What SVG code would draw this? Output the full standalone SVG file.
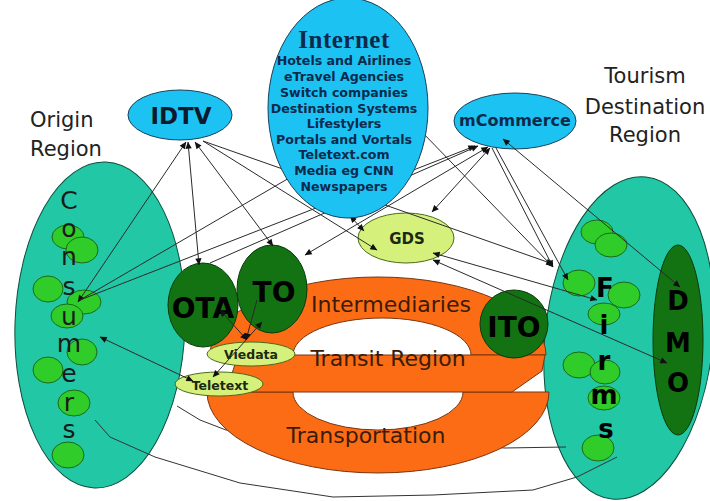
<svg xmlns="http://www.w3.org/2000/svg" width="710" height="501" viewBox="0 0 710 501">
<defs>
<style>
.teal{fill:#22c7a5;stroke:#0d4d3d;stroke-width:1}
.lg{fill:#2fcc2a;stroke:#1b6a1b;stroke-width:1}
.dg{fill:#137313;stroke:#0a3a0a;stroke-width:1}
.blue{fill:#1cc3f2;stroke:#16405a;stroke-width:1}
.pale{fill:#d6f07c;stroke:#4a6a1a;stroke-width:1}
.orange{fill:#fb6c15;stroke:#7a3510;stroke-width:1}
.conn line{stroke:#2a2a2a;stroke-width:1;fill:none}
.route{stroke:#333;stroke-width:1;fill:none}
text{font-family:"DejaVu Sans","Noto Sans",sans-serif}
.big{font-size:25px;fill:#1a1a1a;text-anchor:middle}
.bold{font-weight:bold;text-anchor:middle;fill:#000}
.inet{font-size:12.6px;font-weight:bold;fill:#0d2a4d;text-anchor:middle}
.orl{font-size:22px;fill:#3a1c08;text-anchor:middle}
.reg{font-size:21px;fill:#222}
</style>
<marker id="ah" viewBox="0 0 10 10" refX="9.5" refY="5" markerWidth="8" markerHeight="7" markerUnits="userSpaceOnUse" orient="auto-start-reverse">
<path d="M0,0.5 L10,5 L0,9.5 z" fill="#111"/>
</marker>
</defs>
<rect width="710" height="501" fill="#fff"/>

<g id="consumers">
<ellipse class="teal" cx="100" cy="325" rx="85" ry="163" transform="rotate(2 100 325)"/>
<ellipse class="lg" cx="68" cy="237" rx="16" ry="12"/>
<ellipse class="lg" cx="82" cy="250" rx="16" ry="13"/>
<ellipse class="lg" cx="48" cy="289" rx="15" ry="13"/>
<ellipse class="lg" cx="84" cy="302" rx="17" ry="12"/>
<ellipse class="lg" cx="67" cy="316" rx="16" ry="12"/>
<ellipse class="lg" cx="82" cy="352" rx="15" ry="13"/>
<ellipse class="lg" cx="48" cy="370" rx="15" ry="13"/>
<ellipse class="lg" cx="74" cy="403" rx="16" ry="13"/>
<ellipse class="lg" cx="68" cy="455" rx="16" ry="13"/>
<text class="big" x="69" y="209">C</text>
<text class="big" x="69" y="237">o</text>
<text class="big" x="69" y="265">n</text>
<text class="big" x="69" y="295">s</text>
<text class="big" x="69" y="325">u</text>
<text class="big" x="69" y="352">m</text>
<text class="big" x="69" y="382">e</text>
<text class="big" x="69" y="411">r</text>
<text class="big" x="69" y="438">s</text>
</g>

<g id="firms">
<ellipse class="teal" cx="629" cy="338" rx="84" ry="162" transform="rotate(6 629 338)"/>
<ellipse class="lg" cx="597" cy="232" rx="16" ry="12"/>
<ellipse class="lg" cx="611" cy="245" rx="16" ry="12"/>
<ellipse class="lg" cx="579" cy="283" rx="16" ry="13"/>
<ellipse class="lg" cx="624" cy="295" rx="16" ry="13"/>
<ellipse class="lg" cx="604" cy="314" rx="16" ry="11"/>
<ellipse class="lg" cx="579" cy="365" rx="16" ry="13"/>
<ellipse class="lg" cx="605" cy="372" rx="15" ry="12"/>
<ellipse class="lg" cx="604" cy="398" rx="16" ry="12"/>
<ellipse class="lg" cx="598" cy="448" rx="16" ry="13"/>
<g style="font-size:26px">
<text class="bold" x="605" y="297">F</text>
<text class="bold" x="604" y="334">i</text>
<text class="bold" x="604" y="370">r</text>
<text class="bold" x="604" y="404">m</text>
<text class="bold" x="606" y="438">s</text>
</g>
</g>

<g id="dmo">
<ellipse class="dg" cx="678" cy="340" rx="25" ry="95"/>
<g style="font-size:26px">
<text class="bold" x="678" y="310">D</text>
<text class="bold" x="678" y="352">M</text>
<text class="bold" x="678" y="392">O</text>
</g>
</g>

<g id="routes">
<polyline class="route" points="177,406 200,420 226,430 505,448 566,447"/>
<polyline class="route" points="95,420 110,437 155,457 240,483 333,497 433,495 533,490 577,477 617,457"/>
</g>

<g id="transportation">
<path class="orange" d="M207,392 A171,81 0 0 0 549,392 L463,392 A85,38 0 0 1 293,392 Z"/>
<text class="orl" x="366" y="443">Transportation</text>
</g>
<g id="intermediaries">
<path class="orange" d="M210,355 A168,78 0 0 1 546,355 L471,355 A89,37 0 0 0 293,355 Z"/>
<text class="orl" x="391" y="312">Intermediaries</text>
</g>
<g id="transit">
<path class="orange" d="M238,355 L545,355 L542,371 L512,392 L226,392 Z"/>
<text class="orl" x="388" y="366">Transit Region</text>
</g>

<g id="ota">
<ellipse class="dg" cx="203" cy="305" rx="35" ry="42"/>
<text class="bold" x="203" y="318" style="font-size:28px">OTA</text>
</g>
<g id="to">
<ellipse class="dg" cx="272" cy="289" rx="35" ry="44"/>
<text class="bold" x="274" y="302" style="font-size:28px">TO</text>
</g>
<g id="ito">
<ellipse class="dg" cx="514" cy="324" rx="34" ry="34"/>
<text class="bold" x="514" y="337" style="font-size:28px">ITO</text>
</g>
<g id="gds">
<ellipse class="pale" cx="406" cy="238" rx="48" ry="25"/>
<text class="bold" x="407" y="244" style="font-size:15px;fill:#1a2a10">GDS</text>
</g>
<g id="viedata">
<ellipse class="pale" cx="251" cy="354" rx="44" ry="12"/>
<text class="bold" x="251" y="359" style="font-size:12.5px;fill:#1a2a10">Viedata</text>
</g>
<g id="teletext">
<ellipse class="pale" cx="219" cy="384" rx="44" ry="12"/>
<text class="bold" x="220" y="390" style="font-size:12.5px;fill:#1a2a10">Teletext</text>
</g>

<g id="idtv">
<ellipse class="blue" cx="180" cy="115" rx="52" ry="25"/>
<text class="bold" x="181" y="124" style="font-size:23px;fill:#0d1a2d">IDTV</text>
</g>
<g id="mcommerce">
<ellipse class="blue" cx="515" cy="121" rx="61" ry="28"/>
<text class="bold" x="515" y="126" style="font-size:16px;fill:#0d2a4d">mCommerce</text>
</g>

<g id="connectors" class="conn">
<line x1="186" y1="142" x2="78" y2="302" marker-start="url(#ah)" marker-end="url(#ah)"/>
<line x1="188" y1="142" x2="199" y2="265" marker-start="url(#ah)" marker-end="url(#ah)"/>
<line x1="195" y1="142" x2="273" y2="246" marker-start="url(#ah)" marker-end="url(#ah)"/>
<line x1="203" y1="141" x2="377" y2="250" marker-end="url(#ah)"/>
<line x1="203" y1="141" x2="553" y2="264" marker-end="url(#ah)"/>
<line x1="80" y1="300" x2="320" y2="160"/>
<line x1="80" y1="300" x2="475" y2="146" marker-end="url(#ah)"/>
<line x1="210" y1="263" x2="478" y2="146" marker-end="url(#ah)"/>
<line x1="305" y1="255" x2="488" y2="147" marker-start="url(#ah)" marker-end="url(#ah)"/>
<line x1="490" y1="148" x2="432" y2="212" marker-start="url(#ah)" marker-end="url(#ah)"/>
<line x1="492" y1="148" x2="553" y2="267" marker-end="url(#ah)"/>
<line x1="496" y1="148" x2="568" y2="280" marker-end="url(#ah)"/>
<line x1="503" y1="139" x2="680" y2="287" marker-start="url(#ah)" marker-end="url(#ah)"/>
<line x1="420" y1="130" x2="553" y2="267" marker-end="url(#ah)"/>
<line x1="350" y1="216" x2="364" y2="231" marker-start="url(#ah)" marker-end="url(#ah)"/>
<line x1="433" y1="253" x2="597" y2="300" marker-start="url(#ah)" marker-end="url(#ah)"/>
<line x1="433" y1="260" x2="667" y2="363" marker-start="url(#ah)" marker-end="url(#ah)"/>
<line x1="193" y1="381" x2="100" y2="337" marker-start="url(#ah)" marker-end="url(#ah)"/>
<line x1="220" y1="310" x2="247" y2="340" marker-start="url(#ah)" marker-end="url(#ah)"/>
<line x1="262" y1="322" x2="213" y2="377" marker-start="url(#ah)" marker-end="url(#ah)"/>
<line x1="257" y1="300" x2="246" y2="340" marker-end="url(#ah)"/>
</g>

<g id="internet">
<ellipse class="blue" cx="348" cy="108" rx="80" ry="110"/>
<text x="344" y="48" style="font-family:'Liberation Serif',serif;font-size:25px;font-weight:bold;fill:#0d2a4d;text-anchor:middle;letter-spacing:0.5px">Internet</text>
<text class="inet" x="344" y="65">Hotels and Airlines</text>
<text class="inet" x="344" y="81">eTravel Agencies</text>
<text class="inet" x="344" y="97">Switch companies</text>
<text class="inet" x="344" y="113">Destination Systems</text>
<text class="inet" x="344" y="128">Lifestylers</text>
<text class="inet" x="344" y="144">Portals and Vortals</text>
<text class="inet" x="344" y="159">Teletext.com</text>
<text class="inet" x="344" y="175">Media eg CNN</text>
<text class="inet" x="344" y="191">Newspapers</text>
</g>

<g id="origin-label">
<text class="reg" x="30" y="127">Origin</text>
<text class="reg" x="30" y="156">Region</text>
</g>
<g id="tourism-label">
<text class="reg" x="645" y="83" text-anchor="middle">Tourism</text>
<text class="reg" x="645" y="114" text-anchor="middle">Destination</text>
<text class="reg" x="645" y="142" text-anchor="middle">Region</text>
</g>
</svg>
